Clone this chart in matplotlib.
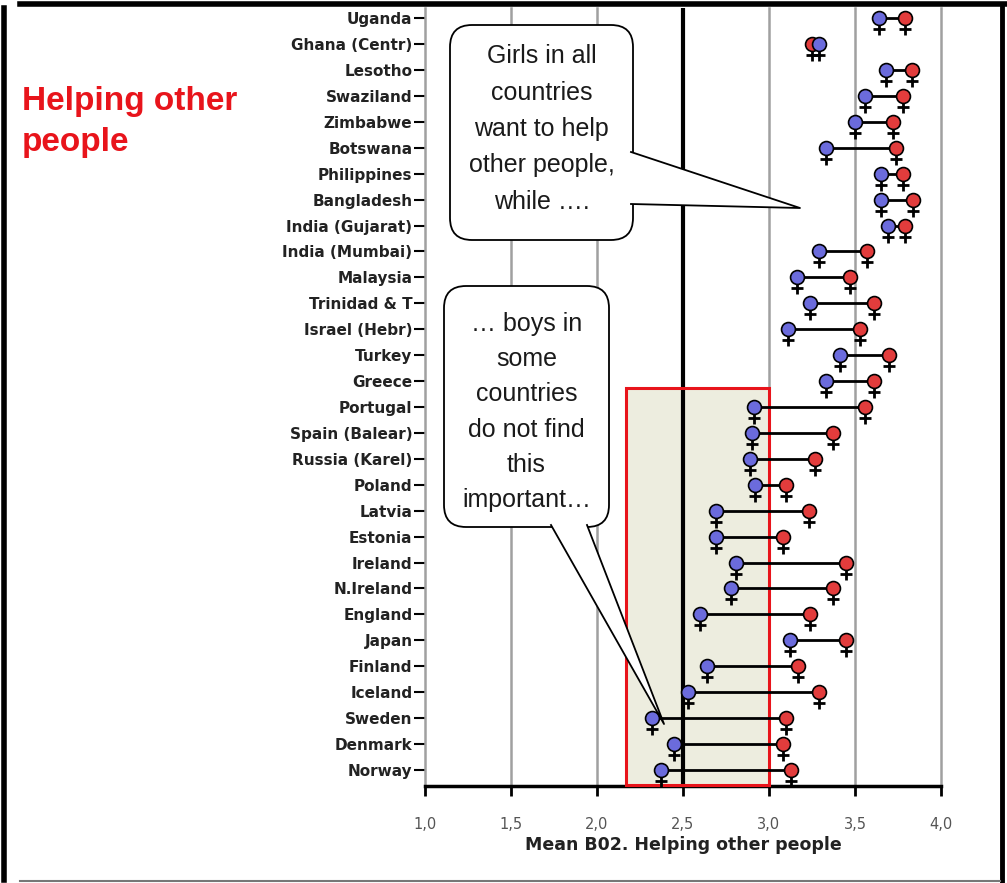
import numpy as np
import matplotlib
matplotlib.use("Agg")
import matplotlib.pyplot as plt
from matplotlib.patches import FancyBboxPatch, Polygon, Rectangle
from matplotlib.lines import Line2D
from matplotlib.transforms import offset_copy

countries = ["Uganda", "Ghana (Centr)", "Lesotho", "Swaziland", "Zimbabwe", "Botswana",
             "Philippines", "Bangladesh", "India (Gujarat)", "India (Mumbai)", "Malaysia",
             "Trinidad & T", "Israel (Hebr)", "Turkey", "Greece", "Portugal", "Spain (Balear)",
             "Russia (Karel)", "Poland", "Latvia", "Estonia", "Ireland", "N.Ireland", "England",
             "Japan", "Finland", "Iceland", "Sweden", "Denmark", "Norway"]
boys = [3.64, 3.29, 3.68, 3.56, 3.50, 3.33, 3.65, 3.65, 3.69, 3.29, 3.16, 3.24, 3.11, 3.41, 3.33,
        2.91, 2.90, 2.89, 2.92, 2.69, 2.69, 2.81, 2.78, 2.60, 3.12, 2.64, 2.53, 2.32, 2.45, 2.37]
girls = [3.79, 3.25, 3.83, 3.78, 3.72, 3.74, 3.78, 3.84, 3.79, 3.57, 3.47, 3.61, 3.53, 3.70, 3.61,
         3.56, 3.37, 3.27, 3.10, 3.23, 3.08, 3.45, 3.37, 3.24, 3.45, 3.17, 3.29, 3.10, 3.08, 3.13]
xticks = [1.0, 1.5, 2.0, 2.5, 3.0, 3.5, 4.0]
xticklabels = ["1,0", "1,5", "2,0", "2,5", "3,0", "3,5", "4,0"]

blue = "#6b6bdc"
red = "#e23c3c"

fig = plt.figure(figsize=(10.07, 8.83), dpi=100)
ax = fig.add_axes([425/1007, 1-786/883, 516/1007, 778/883])
y = np.arange(len(countries))

# highlight box
ax.add_patch(Rectangle((2.17, 14.27), 0.83, 20, facecolor="#ededdf", edgecolor="none", zorder=1))
ax.add_patch(Rectangle((2.17, 14.27), 0.83, 15.3, facecolor="none", edgecolor="#e8141b",
                       lw=2.2, zorder=4, clip_on=False))

for gx in [1.5, 2.0, 3.0, 3.5, 4.0]:
    ax.axvline(gx, color="#a0a0a0", lw=1.8, zorder=2, clip_on=False)
ax.axvline(2.5, color="black", lw=3, zorder=3)

ax.hlines(y, boys, girls, color="black", lw=2, zorder=5)

down = offset_copy(ax.transData, fig=fig, x=0, y=-11, units="dots")
for vals, col in [(girls, red), (boys, blue)]:
    ax.plot(vals, y, "+", color="black", ms=8, mew=2, transform=down, zorder=6, clip_on=False)
    ax.plot(vals, y, "o", color=col, ms=10, mec="black", mew=1.2, zorder=7, clip_on=False)

ax.set_xlim(1.0, 4.0)
ax.set_ylim(29.62, -0.39)
ax.set_yticks(y)
ax.set_yticklabels(countries, fontsize=11, fontweight="bold", color="#222222")
ax.set_xticks(xticks)
ax.set_xticklabels(xticklabels, fontsize=10.5, color="#555555")
ax.tick_params(axis="y", length=8, width=1.5, color="black", pad=1)
ax.tick_params(axis="x", length=7, width=2, color="black", pad=15)
ax.set_xlabel("Mean B02. Helping other people", fontsize=12.5, fontweight="bold",
              color="#222222", labelpad=3)
for s in ["top", "right"]:
    ax.spines[s].set_visible(False)
ax.spines["left"].set_color("#a0a0a0")
ax.spines["left"].set_linewidth(1.8)
ax.spines["bottom"].set_linewidth(2.5)

# overlay in pixel coordinates for callouts and frame
ov = fig.add_axes([0, 0, 1, 1], zorder=10)
ov.set_xlim(0, 1007)
ov.set_ylim(883, 0)
ov.axis("off")


def bubble(x0, y0, x1, y1, base1, base2, tip, text, ty, ls):
    ov.add_patch(FancyBboxPatch((x0 + 22, y0 + 22), x1 - x0 - 44, y1 - y0 - 44,
                                boxstyle="round,pad=22", facecolor="white",
                                edgecolor="black", lw=1.3))
    ov.add_patch(Polygon([base1, tip, base2], closed=True, facecolor="white",
                         edgecolor="none"))
    ov.add_line(Line2D([base1[0], tip[0], base2[0]], [base1[1], tip[1], base2[1]],
                       color="black", lw=1.3))
    ov.text((x0 + x1) / 2, ty, text, ha="center", va="center",
            fontsize=18, family="Liberation Sans", color="#1a1a1a", linespacing=ls)


bubble(450, 25, 633, 240, (631, 152), (631, 204), (800, 208),
       "Girls in all\ncountries\nwant to help\nother people,\nwhile ….", 129, 1.65)
bubble(444, 286, 609, 527, (551, 525), (587, 525), (664, 724),
       "… boys in\nsome\ncountries\ndo not find\nthis\nimportant…", 412, 1.6)

ov.text(22, 122, "Helping other\npeople", ha="left", va="center", fontsize=24,
        family="Liberation Sans", fontweight="bold", color="#e8141b", linespacing=1.45)

# frame
ov.add_line(Line2D([20, 1007], [4, 4], color="black", lw=4))
ov.add_line(Line2D([1002, 1002], [4, 883], color="black", lw=3.5))
ov.add_line(Line2D([4, 4], [8, 880], color="black", lw=4))
ov.add_line(Line2D([20, 1000], [881, 881], color="#777777", lw=1.5))

fig.savefig("out.png", dpi=100)
